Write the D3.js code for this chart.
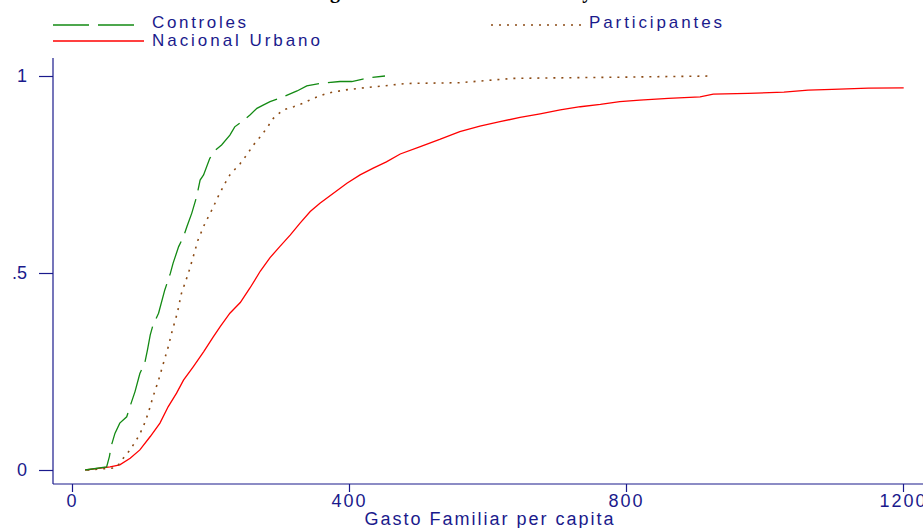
<!DOCTYPE html>
<html><head><meta charset="utf-8">
<script src="https://cdn.jsdelivr.net/npm/d3@7"></script>
<style>
html,body{margin:0;padding:0;background:#fff;}
svg{display:block;font-family:"Liberation Sans",Arial,sans-serif;}
</style></head>
<body><svg id="c" width="923" height="528"></svg>
<script>
// ---- data ----
const ctrlX = [19,50,54,57,62,69,79,86,91,98,105,109,113,117,125,134,142,146,154,161,166,173,180,185,190,199,207,216,228,235,245,257,267,276,286,305,325,339,358,387,404,420,430,452];
const ctrlF = [0,0.008,0.034,0.063,0.093,0.119,0.135,0.173,0.199,0.245,0.271,0.305,0.343,0.368,0.398,0.457,0.499,0.525,0.567,0.592,0.618,0.652,0.694,0.736,0.749,0.791,0.812,0.825,0.850,0.871,0.884,0.901,0.918,0.926,0.935,0.947,0.962,0.975,0.981,0.986,0.986,0.992,0.996,1.0];
const partX = [22,60,65,74,84,96,103,110,117,125,132,139,145,152,158,168,175,182,192,202,211,221,228,243,252,262,272,281,291,305,320,334,348,368,392,416,451,482,560,637,791,924];
const partF = [0,0.005,0.008,0.030,0.051,0.085,0.110,0.144,0.186,0.228,0.271,0.313,0.355,0.398,0.448,0.499,0.541,0.584,0.626,0.660,0.694,0.728,0.749,0.778,0.799,0.825,0.846,0.867,0.893,0.914,0.922,0.931,0.943,0.956,0.964,0.969,0.975,0.981,0.983,0.994,0.997,1.0];
const nacX = [19,55,69,84,98,113,127,139,151,161,175,190,204,214,228,243,257,272,286,300,315,329,344,358,377,397,416,435,454,474,503,531,560,589,618,647,676,705,734,763,791,820,861,907,926,976,1028,1063,1098,1150,1201];
const nacF = [0,0.008,0.013,0.030,0.051,0.085,0.119,0.161,0.195,0.228,0.262,0.300,0.338,0.364,0.398,0.425,0.462,0.505,0.539,0.567,0.596,0.626,0.656,0.677,0.702,0.728,0.749,0.766,0.782,0.802,0.821,0.839,0.859,0.873,0.884,0.895,0.904,0.914,0.922,0.928,0.935,0.939,0.943,0.947,0.954,0.956,0.959,0.964,0.966,0.969,0.970];
const seriesNames = ["Controles","Participantes","Nacional Urbano"];
const xTicks = [0,400,800,1200];
const yTicks = [0,0.5,1];
const yTickLabels = ["0",".5","1"];
const xTitle = "Gasto Familiar per capita";
const chartTitle = "Función de distribución del gasto familiar en Lima Norte y Sur";

// ---- drawing ----
const NAVY = "#1a1a8c";
const svg = d3.select("#c");
const x = d3.scaleLinear().domain([0,1200]).range([72,903]);
const y = d3.scaleLinear().domain([0,1]).range([470,76]);
const axisX0 = 53, axisY0 = 484;

// cut-off title (only descenders visible at top, as in the reference)
const t = svg.append("text").attr("y",-2)
  .style("font-family","'Liberation Serif','Times New Roman',serif")
  .style("font-weight","bold").style("font-size","20px").attr("fill","#000")
  .text(chartTitle);
const gi = chartTitle.indexOf("gasto");
const off = t.node().getSubStringLength(0, gi);
t.attr("x", 330 - off);

// axes lines
svg.append("line").attr("x1",axisX0).attr("x2",axisX0).attr("y1",58).attr("y2",axisY0)
  .attr("stroke",NAVY).attr("stroke-width",1.2);
svg.append("line").attr("x1",axisX0).attr("x2",923).attr("y1",axisY0).attr("y2",axisY0)
  .attr("stroke",NAVY).attr("stroke-width",1.2);

// y ticks
const yAxis = d3.axisLeft(y).tickValues(yTicks).tickSize(14).tickSizeOuter(0)
  .tickPadding(12).tickFormat((d,i)=>yTickLabels[i]);
const gy = svg.append("g").attr("transform",`translate(${axisX0},0)`).call(yAxis);
gy.select(".domain").remove();
gy.selectAll(".tick line").attr("stroke",NAVY).attr("stroke-width",1.2);
gy.selectAll(".tick text").attr("fill",NAVY).style("font-size","18px")
  .style("font-family","'Liberation Sans',Arial,sans-serif");

// x ticks
const xAxis = d3.axisBottom(x).tickValues(xTicks).tickSize(8).tickSizeOuter(0)
  .tickPadding(2).tickFormat(d3.format("d"));
const gx = svg.append("g").attr("transform",`translate(0,${axisY0})`).call(xAxis);
gx.select(".domain").remove();
gx.selectAll(".tick line").attr("stroke",NAVY).attr("stroke-width",1.2);
gx.selectAll(".tick text").attr("fill",NAVY).style("font-size","18px")
  .attr("letter-spacing","2px")
  .style("font-family","'Liberation Sans',Arial,sans-serif");

svg.append("text").attr("x",490).attr("y",525).attr("text-anchor","middle")
  .attr("fill",NAVY).style("font-size","18px").attr("letter-spacing","2px").text(xTitle);

// series
const line = d3.line().x(d=>x(d[0])).y(d=>y(d[1]));
const zip = (a,b)=>a.map((v,i)=>[v,b[i]]);
const styles = [
  {data:zip(ctrlX,ctrlF), color:"#138a13", dash:"36,9", w:1.3},
  {data:zip(partX,partF), color:"#8b4a14", dash:"2,6", w:1.6},
  {data:zip(nacX,nacF), color:"#ff0000", dash:null, w:1.3}
];
[2,1,0].forEach(i=>{
  const s = styles[i];
  svg.append("path").datum(s.data).attr("d",line).attr("fill","none")
    .attr("stroke",s.color).attr("stroke-width",s.w)
    .attr("stroke-dasharray",s.dash);
});

// legend
const leg = [
  {i:0, x1:53, x2:136, ly:25, tx:152, ty:28},
  {i:1, x1:491, x2:581, ly:25, tx:589, ty:28},
  {i:2, x1:53, x2:144, ly:41, tx:152, ty:46}
];
const legW = [94,133,168];
leg.forEach(l=>{
  const s = styles[l.i];
  svg.append("line").attr("x1",l.x1).attr("x2",l.x2).attr("y1",l.ly).attr("y2",l.ly)
    .attr("stroke",s.color).attr("stroke-width",s.w).attr("stroke-dasharray",s.dash);
  svg.append("text").attr("x",l.tx).attr("y",l.ty).attr("fill",NAVY)
    .style("font-size","17px").attr("textLength",legW[l.i]).attr("lengthAdjust","spacing")
    .text(seriesNames[l.i]);
});
</script>
</body></html>
